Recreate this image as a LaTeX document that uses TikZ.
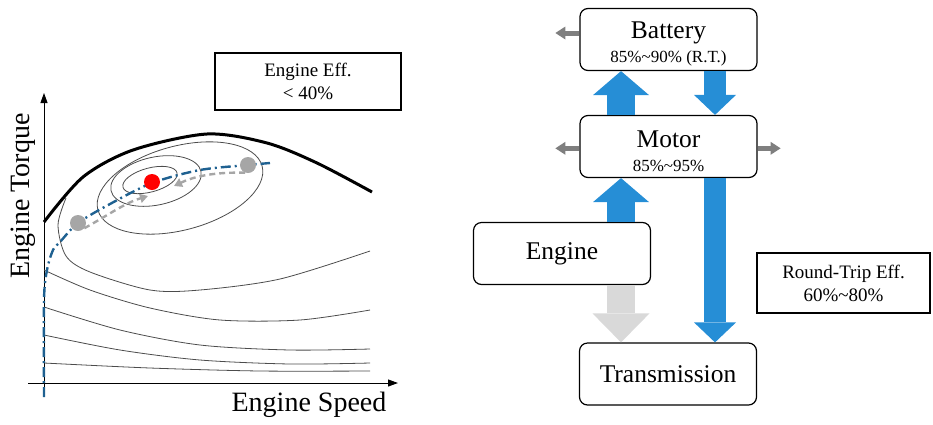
\documentclass[tikz,border=0pt]{standalone}
\usepackage{fontspec}
\setmainfont{Liberation Serif}
\usetikzlibrary{arrows.meta,calc}

\definecolor{flowblue}{RGB}{38,142,214}
\definecolor{lightflow}{RGB}{217,217,217}
\definecolor{lossgray}{RGB}{127,127,127}
\definecolor{opblue}{RGB}{31,97,145}
\definecolor{dotgray}{RGB}{166,166,166}

\begin{document}
\begin{tikzpicture}[x=1pt,y=-1pt]
        \def\smallfont{\fontsize{17}{20}\selectfont}
        \def\toprule{\rule{0pt}{26pt}}
        \tikzstyle{block}=[draw,rounded corners=8pt,line width=1.2pt,minimum width=177pt,
        minimum height=62pt,align=center,inner sep=0pt,font=\fontsize{25.5}{27}\selectfont]
        \tikzstyle{effbox}=[draw,line width=1.2pt,align=center,inner sep=0pt,
        font=\fontsize{19}{23}\selectfont]
        \tikzstyle{contour}=[line width=0.8pt,black!70]
        \tikzstyle{opdot}=[circle,inner sep=0pt,minimum size=16pt]
        \tikzstyle{upflow}=[flowblue,line width=28pt,-{Triangle[width=56pt,length=24pt,line width=0pt]}]
        \tikzstyle{downflow}=[flowblue,line width=22pt,-{Triangle[width=42pt,length=20pt,line width=0pt]}]
        \tikzstyle{lossflow}=[lossgray,line width=5pt,-{Triangle[width=13pt,length=10pt,line width=0pt]}]
        \tikzstyle{shiftpath}=[dotgray,line width=2.4pt,dash pattern=on 6pt off 4pt,
        -{Triangle[width=9pt,length=8pt]}]
        \useasboundingbox (0,0) rectangle (933,424);

        % engine map
        \coordinate (ybot) at (44,397);
        \coordinate (ytop) at (44,93);
        \coordinate (xleft) at (28,383);
        \coordinate (xright) at (398,383);
        \draw[line width=0.9pt,-{Triangle[width=7pt,length=10pt]}] (ybot) -- (ytop);
        \draw[line width=0.9pt,-{Triangle[width=7pt,length=10pt]}] (xleft) -- (xright);
        \node at (309,405) [font=\fontsize{28}{30}\selectfont] (speedlabel) {Engine Speed};
        \node at (23,196) [rotate=90,font=\fontsize{28}{30}\selectfont] (torquelabel) {Engine Torque};

        \draw[contour] plot[smooth] coordinates {(44,363) (150,368) (260,371) (370,371)};
        \draw[contour] plot[smooth] coordinates {(44,335) (120,350) (200,360) (290,364) (370,363)};
        \draw[contour] plot[smooth] coordinates {(44,307) (120,330) (200,345) (290,350) (370,349)};
        \draw[contour] plot[smooth] coordinates {(44,270) (90,290) (150,308) (220,320) (300,320) (370,310)};
        \draw[contour] plot[smooth] coordinates {(66,198) (58,225) (66,256) (90,272) (150,290) (200,290) (280,279) (370,251)};
        \draw[contour,rotate around={15:(180,188)}] (180,188) ellipse (85 and 42);
        \draw[contour,rotate around={12:(156,181)}] (156,181) ellipse (46 and 24);
        \draw[contour,rotate around={15:(150,180)}] (150,180) ellipse (28 and 12);

        \draw[line width=3pt] plot[smooth] coordinates {(44,222) (83,177) (133,150) (207,134) (267,143) (317,163) (372,192)};
        \draw[opblue,line width=2.4pt,dash pattern=on 10pt off 4pt on 2pt off 4pt]
        plot[smooth] coordinates {(44,397) (44,300) (47,270) (53,250) (60,242) (78,223) (110,204) (152,183) (200,170) (248,165) (270,163)};

        \node at (78,223) [opdot,fill=dotgray] (lowpt) {};
        \node at (248,165) [opdot,fill=dotgray] (highpt) {};
        \node at (152,182) [opdot,fill=red] (bestpt) {};
        \draw[shiftpath] (lowpt.-40) .. controls (110,214) and (125,203) .. (148,196);
        \draw[shiftpath] (highpt.-110) .. controls (215,172) and (195,176) .. (174,186);

        \node at (308,81.5) [effbox,minimum width=186pt,minimum height=57pt] (engeff) {Engine Eff.\\< 40\%};

        % power flow
        \node at (668.5,39.5) [block] (battery) {\toprule Battery\\[-3pt]{\smallfont 85\%\textasciitilde 90\% (R.T.)}};
        \node at (668.5,146.5) [block] (motor) {\toprule Motor\\[-3pt]{\smallfont 85\%\textasciitilde 95\%}};
        \node at (562,253.5) [block] (engine) {Engine};
        \node at (668,374) [block] (trans) {Transmission};
        \node at (843.5,283) [effbox,minimum width=173pt,minimum height=60pt] (rteff) {Round-Trip Eff.\\60\%\textasciitilde 80\%};

        \coordinate (upx) at (621,0);
        \coordinate (downx) at (715,0);
        \draw[upflow] (motor.north -| upx) -- (battery.south -| upx);
        \draw[upflow] (engine.north -| upx) -- (motor.south -| upx);
        \draw[downflow] (battery.south -| downx) -- (motor.north -| downx);
        \draw[downflow] (motor.south -| downx) -- (trans.north -| downx);
        \draw[upflow,lightflow,-{Triangle[width=57pt,length=29pt,line width=0pt]}] (engine.south -| upx) -- (trans.north -| upx);
        \draw[lossflow] ([yshift=6.5pt]battery.west) -- ++(-24,0);
        \draw[lossflow] ([yshift=-1.8pt]motor.west) -- ++(-24,0);
        \draw[lossflow] ([yshift=-1.8pt]motor.east) -- ++(23,0);
\end{tikzpicture}
\end{document}
